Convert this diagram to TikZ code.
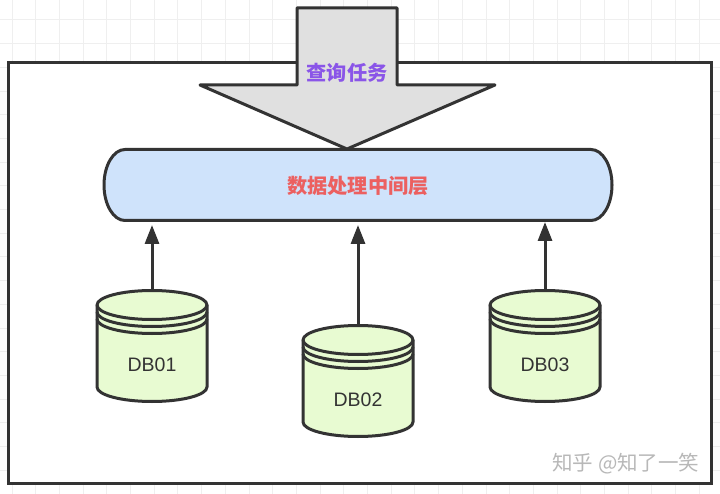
\documentclass[tikz,border=0pt]{standalone}
\usepackage{fontspec}
\setmainfont{Liberation Sans}
\newfontfamily\cjk{Noto Sans CJK SC}
\usetikzlibrary{arrows.meta, positioning}
\definecolor{inkgray}{HTML}{333333}
\definecolor{gridline}{HTML}{EFEFEF}
\definecolor{layerblue}{HTML}{CFE3FB}
\definecolor{drumgreen}{HTML}{E8FBD2}
\definecolor{taskviolet}{HTML}{8A55E8}
\definecolor{layerred}{HTML}{EC6060}
\tikzset{
  frame/.style    = {draw=inkgray, line width=3pt, fill=white},
  query/.style    = {draw=inkgray, line width=3pt, fill=black!12, line join=round},
  layer/.style    = {draw=inkgray, line width=3pt, fill=layerblue},
  drum/.style     = {minimum width=110pt, minimum height=111pt, inner sep=0pt, outer sep=0pt},
  drumline/.style = {draw=inkgray, line width=3pt, line join=round},
  drumtext/.style = {font=\fontsize{19.5}{22}\selectfont, text=inkgray},
  feed/.style     = {-{Triangle[length=19pt, width=14pt]}, draw=inkgray, line width=3pt, shorten >=4pt},
  title/.style    = {font=\cjk\bfseries\fontsize{20.2}{24}\selectfont},
}

\begin{document}
\begin{tikzpicture}[x=1pt, y=-1pt]
\useasboundingbox (0,0) rectangle (720,494);

% paper grid behind everything
\foreach \x in {0,...,30}
  \draw[gridline, line width=1pt] (12+23.7*\x,0) -- (12+23.7*\x,494);
\foreach \y in {0,...,20}
  \draw[gridline, line width=1pt] (0,20+23.7*\y) -- (720,20+23.7*\y);

\node[frame, minimum width=703pt, minimum height=421pt, inner sep=0pt] (box) at (359.5,273) {};

\draw[query] (297,8) -- (397,8) -- (397,85) -- (495,85) -- (347,149) -- (200,85) -- (297,85) -- cycle;
\node[title, text=taskviolet] (task) at (347,72.5) {查询任务};

\draw[layer] (125,149.5) -- (591,149.5) arc[start angle=90, end angle=-90, x radius=21, y radius=-35.5]
  -- (125,220.5) arc[start angle=270, end angle=90, x radius=21, y radius=-35.5] -- cycle;
\node[title, text=layerred, minimum width=508pt, minimum height=71pt, inner sep=0pt, outer sep=0pt] (mid) at (358,185.5) {数据处理中间层};

\node[drum] (db01) at (152,346) {};
\node[drum] (db02) at (358,381) {};
\node[drum] (db03) at (545,346) {};

% body, lid and the two rings under it, then the name lower down
\foreach \d/\t in {db01/DB01, db02/DB02, db03/DB03} {
  \fill[drumgreen] ([shift={(-55,-41)}]\d.center) -- ([shift={(-55,41)}]\d.center)
    arc[start angle=180, end angle=360, x radius=55, y radius=-14.5]
    -- ([shift={(55,-41)}]\d.center) arc[start angle=0, end angle=180, x radius=55, y radius=-14.5] -- cycle;
  \draw[drumline] ([shift={(-55,-41)}]\d.center) -- ([shift={(-55,41)}]\d.center)
    arc[start angle=180, end angle=360, x radius=55, y radius=-14.5]
    -- ([shift={(55,-41)}]\d.center) arc[start angle=0, end angle=180, x radius=55, y radius=-14.5] -- cycle;
  \draw[drumline] ([shift={(-55,-41)}]\d.center) arc[start angle=180, end angle=360, x radius=55, y radius=-14.5];
  \draw[drumline] ([shift={(-55,-34)}]\d.center) arc[start angle=180, end angle=360, x radius=55, y radius=-14.5];
  \draw[drumline] ([shift={(-55,-27)}]\d.center) arc[start angle=180, end angle=360, x radius=55, y radius=-14.5];
  \node[drumtext] (\d text) at ([yshift=-18.5pt]\d.center) {\t};
}

\draw[feed] (db01.north) -- (db01.north |- mid.south);
\draw[feed] (db02.north) -- (db02.north |- mid.south);
\draw[feed, shorten >=1pt] (db03.north) -- (db03.north |- mid.south);

\node[text=black!28, font=\cjk\fontsize{20.5}{24}\selectfont, anchor=east] (mark) at (703,464) {知乎 @知了一笑};

\end{tikzpicture}
\end{document}
